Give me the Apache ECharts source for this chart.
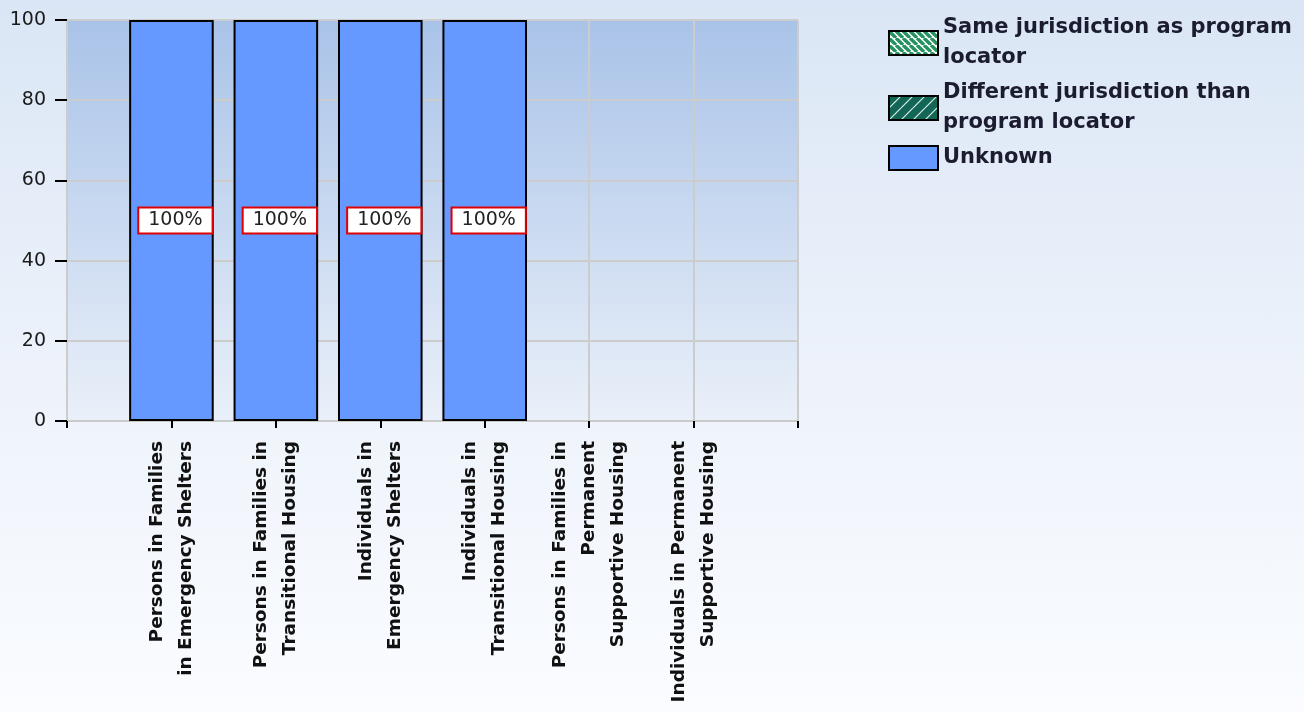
<!DOCTYPE html>
<html>
<head>
<meta charset="utf-8">
<title>Program locator chart</title>
<script src="https://cdn.jsdelivr.net/npm/echarts@6/dist/echarts.min.js"></script>
<style>
    html, body { margin: 0; padding: 0; }
    body { background: linear-gradient(to bottom, #dae6f5 0%, #eef3fb 55%, #fafcff 100%); }
    #chart { width: 1304px; height: 712px; }
</style>
</head>
<body>
<div id="chart"></div>
<script>
// Categories (axis labels)
const categories = [
    'Persons in Families\nin Emergency Shelters',
    'Persons in Families in\nTransitional Housing',
    'Individuals in\nEmergency Shelters',
    'Individuals in\nTransitional Housing',
    'Persons in Families in\nPermanent\nSupportive Housing',
    'Individuals in Permanent\nSupportive Housing'
];

// Series values (percent)
const sameJurisdiction = [0, 0, 0, 0, 0, 0];
const differentJurisdiction = [0, 0, 0, 0, 0, 0];
const unknownJurisdiction = [100, 100, 100, 100, 0, 0];

const seriesNames = [
    'Same jurisdiction as program\nlocator',
    'Different jurisdiction than\nprogram locator',
    'Unknown'
];

const yTicks = { min: 0, max: 100, interval: 20 };

// Motif hachuré pour la légende
function makeStripes(bg, fg, size, lineW, backslash) {
    const c = document.createElement('canvas');
    c.width = size;
    c.height = size;
    const ctx = c.getContext('2d');
    ctx.fillStyle = bg;
    ctx.fillRect(0, 0, size, size);
    ctx.strokeStyle = fg;
    ctx.lineWidth = lineW;
    ctx.beginPath();
    for (let k = -1; k <= 1; k++) {
        if (backslash) {
            ctx.moveTo(k * size, 0);
            ctx.lineTo(k * size + size, size);
        } else {
            ctx.moveTo(k * size, size);
            ctx.lineTo(k * size + size, 0);
        }
    }
    ctx.stroke();
    return c;
}

// Axe catégoriel avec une case vide à chaque bout (ticks aux bords du graphique)
const axisData = [''].concat(categories, ['']);
// 0 -> null pour ne pas dessiner de barre vide
const pad = arr => [null].concat(arr.map(v => (v === 0 ? null : v)), [null]);

const chart = echarts.init(document.getElementById('chart'), null, { renderer: 'canvas' });

const legendIcon = { borderColor: '#000', borderWidth: 2 };

const option = {
    animation: false,
    textStyle: { fontFamily: 'DejaVu Sans' },
    grid: {
        left: 67,
        right: 506,
        top: 20,
        bottom: 291,
        show: true,
        borderColor: '#c8c8c8',
        borderWidth: 1,
        backgroundColor: new echarts.graphic.LinearGradient(0, 0, 0, 1, [
            { offset: 0, color: '#a9c3e8' },
            { offset: 1, color: '#eaf0f9' }
        ])
    },
    legend: {
        orient: 'vertical',
        left: 883,
        top: 8,
        itemWidth: 49,
        itemHeight: 24,
        itemGap: 5,
        icon: 'rect',
        textStyle: {
            fontFamily: 'DejaVu Sans',
            fontSize: 21,
            fontWeight: 'bold',
            color: '#1c1c30',
            lineHeight: 30
        },
        data: [
            { name: seriesNames[0], itemStyle: legendIcon },
            { name: seriesNames[1], itemStyle: legendIcon },
            { name: seriesNames[2], itemStyle: legendIcon }
        ]
    },
    xAxis: {
        type: 'category',
        data: axisData,
        boundaryGap: false,
        axisLine: { show: true, lineStyle: { color: '#c8c8c8', width: 1 } },
        axisTick: { show: true, length: 7, lineStyle: { color: '#000', width: 2 } },
        splitLine: { show: true, lineStyle: { color: '#cccccc', width: 2 } },
        axisLabel: {
            rotate: 90,
            margin: 20,
            interval: 0,
            fontFamily: 'DejaVu Sans',
            fontSize: 18.5,
            fontWeight: 'bold',
            color: '#111',
            lineHeight: 29
        }
    },
    yAxis: {
        type: 'value',
        min: yTicks.min,
        max: yTicks.max,
        interval: yTicks.interval,
        axisLine: { show: false },
        axisTick: { show: true, length: 12, lineStyle: { color: '#000', width: 2 } },
        splitLine: { show: true, lineStyle: { color: '#cccccc', width: 2 } },
        axisLabel: {
            margin: 21,
            fontFamily: 'DejaVu Sans',
            fontSize: 19,
            color: '#1a1a1a'
        }
    },
    series: [
        {
            name: seriesNames[0],
            type: 'bar',
            stack: 'total',
            barWidth: '81%',
            itemStyle: {
                color: { image: makeStripes('#ffffff', '#25935f', 7, 3.4, true), repeat: 'repeat' }
            },
            data: pad(sameJurisdiction)
        },
        {
            name: seriesNames[1],
            type: 'bar',
            stack: 'total',
            barWidth: '81%',
            itemStyle: {
                color: { image: makeStripes('#136656', '#d8f0ea', 12, 1.2, false), repeat: 'repeat' }
            },
            data: pad(differentJurisdiction)
        },
        {
            name: seriesNames[2],
            type: 'bar',
            stack: 'total',
            barWidth: '81%',
            itemStyle: {
                color: '#6699ff',
                borderColor: '#000',
                borderWidth: 2
            },
            label: {
                show: true,
                position: 'inside',
                offset: [4, 0],
                formatter: p => p.value + '%',
                fontFamily: 'DejaVu Sans',
                fontSize: 19,
                color: '#222',
                backgroundColor: '#ffffff',
                borderColor: '#e00000',
                borderWidth: 2,
                padding: [3, 9, 2, 9]
            },
            data: pad(unknownJurisdiction)
        }
    ]
};

chart.setOption(option);
window.addEventListener('resize', chart.resize);
</script>
</body>
</html>
